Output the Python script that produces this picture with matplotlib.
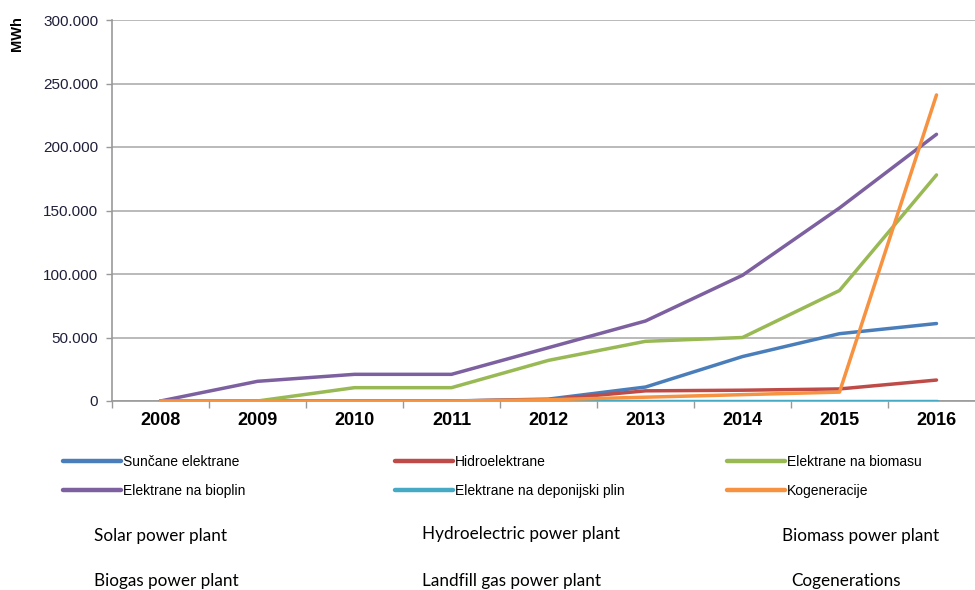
import matplotlib
matplotlib.use("Agg")
import matplotlib.pyplot as plt
from matplotlib.ticker import FuncFormatter, MultipleLocator

years = ["2008", "2009", "2010", "2011", "2012", "2013", "2014", "2015", "2016"]

suncane = [0, 0, 0, 0, 1500, 11000, 35000, 53000, 61000]
hidro = [0, 0, 0, 0, 1000, 8000, 8500, 9500, 16500]
biomasa = [0, 0, 10500, 10500, 32000, 47000, 50000, 87000, 178000]
bioplin = [0, 15500, 21000, 21000, 42000, 63000, 99000, 152000, 210000]
deponijski = [0, 0, 0, 0, 0, 0, 0, 0, 0]
kogeneracije = [0, 0, 0, 0, 1000, 3000, 5000, 7000, 241000]

series_names = ["Sunčane elektrane", "Hidroelektrane", "Elektrane na biomasu",
                "Elektrane na bioplin", "Elektrane na deponijski plin", "Kogeneracije"]
english_names = ["Solar power plant", "Hydroelectric power plant", "Biomass power plant",
                 "Biogas power plant", "Landfill gas power plant", "Cogenerations"]
colors = ["#4a7ebb", "#be4b48", "#98b954", "#7d60a0", "#46aac5", "#f69240"]
values = [suncane, hidro, biomasa, bioplin, deponijski, kogeneracije]

W, H = 975, 590
fig = plt.figure(figsize=(W / 100, H / 100), dpi=100)
ax = fig.add_axes([112 / W, (H - 401) / H, (985 - 112) / W, (401 - 20) / H])

x = list(range(len(years)))
lines = []
for vals, c, name in zip(values, colors, series_names):
    ln, = ax.plot(x, vals, color=c, lw=2.5, solid_capstyle="round",
                  solid_joinstyle="round", label=name, zorder=3)
    lines.append(ln)

ax.set_xlim(-0.5, len(years) - 0.5)
ax.set_ylim(0, 300000)
ax.yaxis.set_major_locator(MultipleLocator(50000))
ax.yaxis.set_major_formatter(FuncFormatter(
    lambda v, p: "0" if v == 0 else f"{int(v):,}".replace(",", ".")))
ax.grid(axis="y", color="#b4b4b4", lw=1.3, zorder=0)
ax.set_axisbelow(True)

# category boundaries carry the tick marks, labels sit at the centres
ax.set_xticks([i + 0.5 for i in range(-1, len(years))], minor=False)
ax.set_xticklabels([])
ax.tick_params(axis="x", which="major", length=5, color="#999999", width=1)
ax.set_xticks(x, minor=True)
ax.set_xticklabels(years, minor=True, fontsize=13, fontweight="bold",
                   fontfamily="Liberation Sans")
ax.tick_params(axis="x", which="minor", length=0, pad=8)
ax.tick_params(axis="y", length=4, color="#999999", width=1, labelsize=11,
               labelcolor="#1f1f3a", pad=6)
for lbl in ax.get_yticklabels():
    lbl.set_fontfamily("Liberation Sans")

for s in ["top", "right"]:
    ax.spines[s].set_visible(False)
for s in ["left", "bottom"]:
    ax.spines[s].set_color("#999999")
    ax.spines[s].set_linewidth(1.2)

fig.text(17 / W, 1 - 34 / H, "MWh", rotation=90, ha="center", va="center",
         fontsize=10.5, fontweight="bold", fontfamily="Liberation Sans")

# Legend: three columns, two rows each
col_x = [63, 395, 727]
for col in range(3):
    idx = [col, col + 3]
    leg = fig.legend([lines[i] for i in idx], [series_names[i] for i in idx],
                     loc="upper left", bbox_to_anchor=(col_x[col] / W, 1 - 455 / H),
                     frameon=False, handlelength=4.2,
                     handletextpad=0.12, labelspacing=1.05, borderpad=0,
                     borderaxespad=0, prop={"family": "Liberation Sans", "size": 10})
    for h in leg.legend_handles:
        h.set_linewidth(3.2)

# English translations below the legend
eng_pos = [(94, 536), (422, 534), (782, 536), (94, 581), (422, 581), (791, 581)]
for (px, py), txt in zip(eng_pos, english_names):
    fig.text(px / W, 1 - py / H, txt, ha="left", va="center", fontsize=12.3,
             fontfamily="Lato")

fig.savefig("out.png", dpi=100)
